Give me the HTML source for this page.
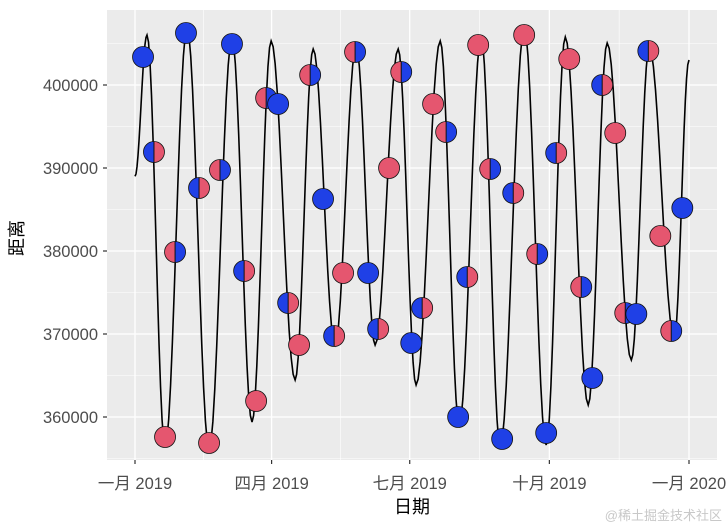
<!DOCTYPE html>
<html><head><meta charset="utf-8">
<style>
html,body{margin:0;padding:0;background:#fff;}
svg{display:block;font-family:"Liberation Sans","Noto Sans CJK SC",sans-serif;}
</style></head>
<body>
<svg id="chart" width="728" height="529" viewBox="0 0 728 529" xmlns="http://www.w3.org/2000/svg">
<rect x="107" y="10" width="610" height="450" fill="#EBEBEB"/>
<g id="grid"></g><g id="line"></g><g id="points"></g><g id="axes"></g>
<text x="412" y="513" font-size="18" text-anchor="middle" fill="#000">日期</text>
<text x="0" y="0" font-size="18" text-anchor="middle" fill="#000" transform="translate(23,238) rotate(-90)">距离</text>
<text x="722" y="520" font-size="13" text-anchor="end" fill="#C8C8C8">@稀土掘金技术社区</text>
</svg>
<script>
// extremes of distance curve (day of year 2019, km)
const extremeDays=[0,7.9,19.8,34.3,48.8,63.9,77.1,89.7,105.5,117.4,131.8,145.7,158.2,173.4,185.2,201.1,213.6,228.1,240.6,256.5,270.9,283.5,298.6,311.1,327.0,338.8,355.3,365];
const extremeVals=[389000,406024,356386,406867,356145,405663,359398,405301,364458,404337,368675,404699,368675,404337,363855,405301,359036,405783,356386,406867,356627,405783,361446,405060,366867,404578,369518,403012];
// phase points
const phaseDays=[5.3,12.5,19.8,26.4,33.6,42.2,48.8,56.0,63.9,71.9,79.8,86.4,94.3,100.9,108.1,115.4,123.9,131.2,137.1,145.0,153.6,160.2,167.4,175.4,182.0,189.2,196.4,205.0,212.9,218.9,226.1,234.0,241.9,249.2,256.4,265.0,270.9,277.5,286.1,294.0,301.3,307.8,316.4,323.0,330.3,338.2,346.1,353.3,360.6];
const phaseVals=[403373,391928,357590,379880,406265,387590,356867,389759,404940,377590,361928,398434,397711,373735,368675,401205,386265,369759,377349,403976,377349,370602,390000,401566,368916,373133,397711,394337,360000,376867,404819,389880,357349,386988,406024,379639,358072,391807,403133,375663,364699,400000,394217,372530,372410,404096,381807,370361,385181];
const phaseTypes=["N","Q1","F","Q3"]; // cycles starting from new moon
const yTicks=[360000,370000,380000,390000,400000];
const xTickDays=[0,90,181,273,365];
const xTickLabels=["一月 2019","四月 2019","七月 2019","十月 2019","一月 2020"];

const NS="http://www.w3.org/2000/svg";
const X=d=>135+d*1.5178;
const Y=v=>85+(400000-v)/10000*83;
function mk(tag,attrs,parent){const e=document.createElementNS(NS,tag);for(const k in attrs)e.setAttribute(k,attrs[k]);parent.appendChild(e);return e;}
const grid=document.getElementById('grid'),axes=document.getElementById('axes');
for(let i=0;i<xTickDays.length-1;i++){const xm=(X(xTickDays[i])+X(xTickDays[i+1]))/2;
 const g=mk('line',{x1:xm,x2:xm,y1:10,y2:460,stroke:'#fff','stroke-width':0.6},grid);
 
 }
for(let v=355000;v<=405000;v+=10000){const g=mk('line',{x1:107,x2:717,y1:Y(v),y2:Y(v),stroke:'#fff','stroke-width':0.6},grid);
 
 }
yTicks.forEach(v=>{const y=Y(v);
 const g=mk('line',{x1:107,x2:717,y1:y,y2:y,stroke:'#fff','stroke-width':1.3},grid);
 
 
 const t=mk('line',{x1:103,x2:107,y1:y,y2:y,stroke:'#333','stroke-width':1.2},axes);
 
 
 const l=mk('text',{x:98,y:y+6,'font-size':16.5,'text-anchor':'end',fill:'#4D4D4D'},axes);l.textContent=v;
 
 });
xTickDays.forEach((d,i)=>{const x=X(d);
 const g=mk('line',{x1:x,x2:x,y1:10,y2:460,stroke:'#fff','stroke-width':1.3},grid);
 
 
 const t=mk('line',{x1:x,x2:x,y1:460,y2:464,stroke:'#333','stroke-width':1.2},axes);
 
 
 const l=mk('text',{x:x,y:489,'font-size':16.5,'text-anchor':'middle',fill:'#4D4D4D'},axes);l.textContent=xTickLabels[i];
 
 });
let pts=[];
for(let i=0;i<extremeDays.length-1;i++){const d0=extremeDays[i],d1=extremeDays[i+1],v0=extremeVals[i],v1=extremeVals[i+1];
 for(let s=0;s<=12;s++){const t=s/12;const e=(1-Math.cos(Math.PI*t))/2;
  pts.push(X(d0+(d1-d0)*t).toFixed(2)+','+Y(v0+(v1-v0)*e).toFixed(2));}}
const pl=mk('polyline',{points:pts.join(' '),fill:'none',stroke:'#000','stroke-width':1.6},document.getElementById('line'));


const RED='#E5566F',BLUE='#1F40E6',r=10.5;
const pg=document.getElementById('points');
phaseDays.forEach((d,i)=>{const cx=X(d),cy=Y(phaseVals[i]);const ty=phaseTypes[i%4];
 const g=mk('g',{},pg);
 
 
 if(ty==='N'||ty==='F'){mk('circle',{cx:cx,cy:cy,r:r,fill:ty==='N'?BLUE:RED,stroke:'#111','stroke-width':0.8},g);}
 else{const L=ty==='Q1'?BLUE:RED,R=ty==='Q1'?RED:BLUE;
  mk('path',{d:`M${cx},${cy-r} A${r},${r} 0 0 0 ${cx},${cy+r} Z`,fill:L},g);
  mk('path',{d:`M${cx},${cy-r} A${r},${r} 0 0 1 ${cx},${cy+r} Z`,fill:R},g);
  mk('circle',{cx:cx,cy:cy,r:r,fill:'none',stroke:'#111','stroke-width':0.8},g);
  mk('line',{x1:cx,x2:cx,y1:cy-r,y2:cy+r,stroke:'#111','stroke-width':1},g);}
});
</script>
</body></html>
